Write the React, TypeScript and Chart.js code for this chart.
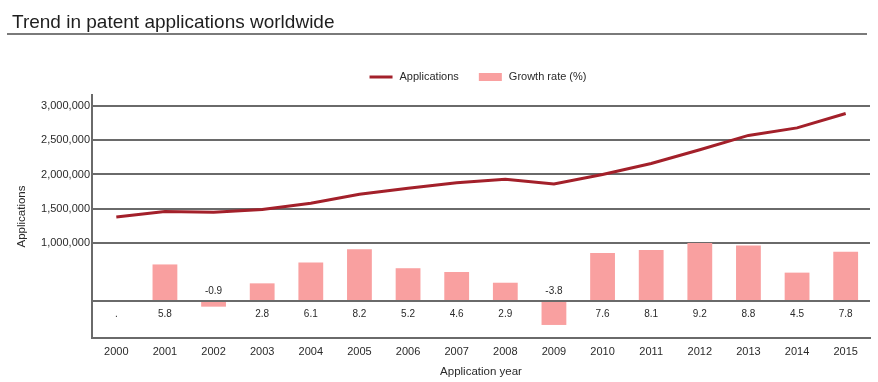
import React, { useEffect, useRef } from 'react';
import { Chart, registerables } from 'chart.js';

Chart.register(...registerables);

const years = ['2000', '2001', '2002', '2003', '2004', '2005', '2006', '2007', '2008', '2009', '2010', '2011', '2012', '2013', '2014', '2015'];
const applications = [1380000, 1460000, 1450000, 1490000, 1580000, 1710000, 1800000, 1880000, 1930000, 1860000, 2000000, 2160000, 2360000, 2570000, 2680000, 2890000];
const growthRate = [null, 5.8, -0.9, 2.8, 6.1, 8.2, 5.2, 4.6, 2.9, -3.8, 7.6, 8.1, 9.2, 8.8, 4.5, 7.8];
const growthLabels = ['.', '5.8', '-0.9', '2.8', '6.1', '8.2', '5.2', '4.6', '2.9', '-3.8', '7.6', '8.1', '9.2', '8.8', '4.5', '7.8'];
const appTicks = [1000000, 1500000, 2000000, 2500000, 3000000];

const TITLE = 'Trend in patent applications worldwide';
const LINE_LABEL = 'Applications';
const BAR_LABEL = 'Growth rate (%)';
const X_TITLE = 'Application year';
const Y_TITLE = 'Applications';

const SANS = "'Liberation Sans', Arial, sans-serif";
const LINE_COLOR = '#a3202a';
const BAR_COLOR = '#f9a0a0';
const GRID_COLOR = '#6a6a6a';
const TEXT_COLOR = '#2a2a2a';

const decorPlugin = {
  id: 'decor',
  afterDraw(chart: any) {
    const ctx = chart.ctx;
    const area = chart.chartArea;
    ctx.save();
    // title
    ctx.fillStyle = '#1e1e1e';
    ctx.font = `19px ${SANS}`;
    ctx.textAlign = 'left';
    ctx.textBaseline = 'alphabetic';
    ctx.fillText(TITLE, 12, 28);
    // underline
    ctx.strokeStyle = '#7a7a7a';
    ctx.lineWidth = 2;
    ctx.beginPath();
    ctx.moveTo(7, 34);
    ctx.lineTo(867, 34);
    ctx.stroke();
    // legend
    ctx.font = `11px ${SANS}`;
    ctx.fillStyle = TEXT_COLOR;
    ctx.textBaseline = 'middle';
    const sw = 23, gap = 7, pad = 20;
    const w1 = ctx.measureText(LINE_LABEL).width;
    const w2 = ctx.measureText(BAR_LABEL).width;
    const total = sw + gap + w1 + pad + sw + gap + w2;
    const cx = (area.left + area.right) / 2 - 3;
    let x = cx - total / 2;
    const ly = 77;
    ctx.strokeStyle = LINE_COLOR;
    ctx.lineWidth = 3;
    ctx.beginPath();
    ctx.moveTo(x, ly);
    ctx.lineTo(x + sw, ly);
    ctx.stroke();
    x += sw + gap;
    ctx.fillText(LINE_LABEL, x, ly);
    x += w1 + pad;
    ctx.fillStyle = BAR_COLOR;
    ctx.fillRect(x, ly - 4, sw, 8);
    x += sw + gap;
    ctx.fillStyle = TEXT_COLOR;
    ctx.fillText(BAR_LABEL, x, ly);
    ctx.restore();
  },
  afterDatasetsDraw(chart: any) {
    const ctx = chart.ctx;
    const meta = chart.getDatasetMeta(1);
    const y2 = chart.scales.y2;
    const zero = y2.getPixelForValue(0);
    ctx.save();
    ctx.font = `10px ${SANS}`;
    ctx.fillStyle = TEXT_COLOR;
    ctx.textAlign = 'center';
    ctx.textBaseline = 'middle';
    meta.data.forEach((el: any, i: number) => {
      const v = growthRate[i];
      const y = v !== null && v < 0 ? zero - 9.5 : zero + 13;
      ctx.fillText(growthLabels[i], el.x, y);
    });
    ctx.restore();
  },
};

export default function App() {
  const ref = useRef<HTMLCanvasElement | null>(null);
  useEffect(() => {
    if (!ref.current) return;
    const chart = new Chart(ref.current, {
      type: 'bar',
      data: {
        labels: years,
        datasets: [
          {
            type: 'line',
            label: LINE_LABEL,
            data: applications,
            yAxisID: 'y',
            borderColor: LINE_COLOR,
            backgroundColor: LINE_COLOR,
            borderWidth: 3,
            pointRadius: 0,
            tension: 0,
            order: 0,
          } as any,
          {
            type: 'bar',
            label: BAR_LABEL,
            data: growthRate,
            yAxisID: 'y2',
            backgroundColor: BAR_COLOR,
            borderWidth: 0,
            categoryPercentage: 1,
            barPercentage: 0.51,
            order: 1,
          } as any,
        ],
      },
      options: {
        responsive: false,
        animation: false,
        layout: { padding: { top: 95, left: 0, right: 8, bottom: 2 } },
        plugins: { legend: { display: false }, tooltip: { enabled: false }, title: { display: false } },
        scales: {
          x: {
            grid: { display: false, drawTicks: false },
            border: { display: true, color: GRID_COLOR, width: 2 },
            ticks: { color: TEXT_COLOR, font: { family: SANS, size: 11 }, padding: 7, maxRotation: 0 },
            title: { display: true, text: X_TITLE, color: TEXT_COLOR, font: { family: SANS, size: 11.5 }, padding: 1 },
            afterFit(scale: any) { scale.height = 42; },
          },
          y: {
            position: 'left',
            min: -387000,
            max: 3160000,
            afterBuildTicks(scale: any) { scale.ticks = appTicks.map((v) => ({ value: v })); },
            grid: { color: GRID_COLOR, lineWidth: 2, drawTicks: false },
            border: { display: true, color: GRID_COLOR, width: 2 },
            ticks: {
              color: TEXT_COLOR,
              font: { family: SANS, size: 11 },
              padding: 2,
              callback: (v: any) => Number(v).toLocaleString('en-US'),
            },
            title: { display: true, text: Y_TITLE, color: TEXT_COLOR, font: { family: SANS, size: 11.5 }, padding: { top: 15, bottom: 0 } },
            afterFit(scale: any) { scale.width = 92; },
          },
          y2: {
            position: 'right',
            min: -5.87,
            max: 32.68,
            afterBuildTicks(scale: any) { scale.ticks = [{ value: 0 }]; },
            grid: { color: GRID_COLOR, lineWidth: 2, drawTicks: false, drawOnChartArea: true },
            border: { display: false },
            ticks: { display: false },
            afterFit(scale: any) { scale.width = 0; },
          },
        },
      },
      plugins: [decorPlugin],
    });
    return () => chart.destroy();
  }, []);
  return (
    <div style={{ position: 'absolute', left: 0, top: 0, width: 878, height: 382, background: '#fff' }}>
      <canvas ref={ref} width={878} height={382} style={{ display: 'block' }} />
    </div>
  );
}
